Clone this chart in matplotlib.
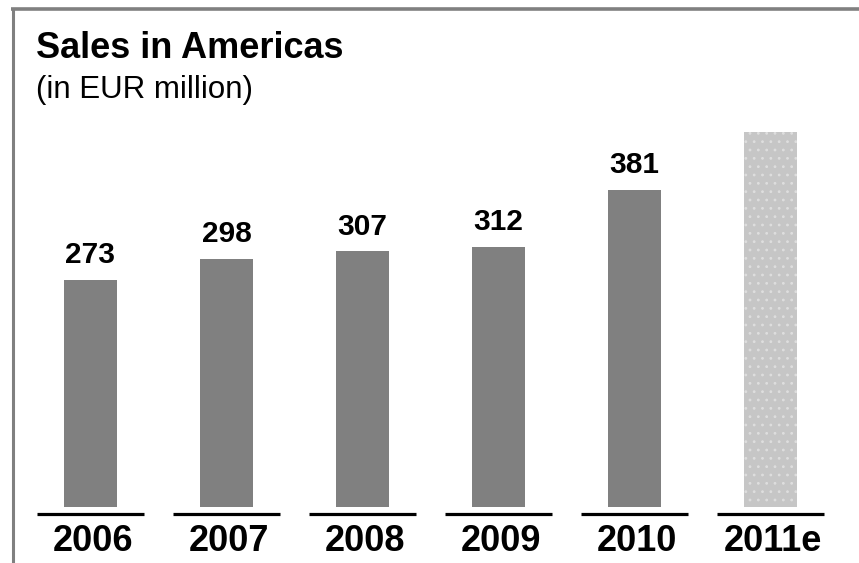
import matplotlib
matplotlib.use("Agg")
import matplotlib.pyplot as plt
from matplotlib.lines import Line2D

plt.rcParams['font.family'] = ['Liberation Sans', 'DejaVu Sans']
plt.rcParams['hatch.linewidth'] = 0.8

years = ["2006", "2007", "2008", "2009", "2010", "2011e"]
values = [273, 298, 307, 312, 381, 450]
labels = ["273", "298", "307", "312", "381", ""]
title = "Sales in Americas"
subtitle = "(in EUR million)"

W, H = 859, 563
fig = plt.figure(figsize=(W / 100, H / 100), dpi=100)
ax = fig.add_axes([0, 0, 1, 1])
ax.set_axis_off()

px_per_unit_y = 0.833
base_px = 507
ax.set_ylim(-(H - base_px) / px_per_unit_y, base_px / px_per_unit_y)
spacing = 135.9
first = 90.5
ax.set_xlim(-first / spacing, (W - first) / spacing)

x = list(range(len(years)))
bar_w = 53 / spacing
colors = ['#808080'] * (len(years) - 1) + ['#c6c6c6']
bars = ax.bar(x, values, width=bar_w, color=colors, linewidth=0)
bars[-1].set_hatch('..')
bars[-1].set_edgecolor('#dedede')
bars[-1].set_linewidth(0)

ul_y = -(514 - base_px) / px_per_unit_y
ul_w = 107 / spacing
for xi, yr in zip(x, years):
    ax.plot([xi - ul_w / 2, xi + ul_w / 2], [ul_y, ul_y], color='black',
            lw=2.3, solid_capstyle='butt')
    ax.text(xi + 0.02, -(551 - base_px) / px_per_unit_y, yr, ha='center',
            va='baseline', fontsize=26, fontweight='bold', color='black')

for xi, v, lab in zip(x, values, labels):
    if lab:
        ax.annotate(lab, (xi, v), xytext=(0, 12), textcoords='offset points',
                    ha='center', va='baseline', fontsize=21.5,
                    fontweight='bold', color='black')

fig.text(36 / W, 1 - 58 / H, title, ha='left', va='baseline', fontsize=26,
         fontweight='bold', color='black')
fig.text(36 / W, 1 - 98 / H, subtitle, ha='left', va='baseline', fontsize=22.5,
         color='black')

fig.add_artist(Line2D([11 / W, 1], [1 - 9 / H, 1 - 9 / H], color='#808080',
                      lw=2.6, transform=fig.transFigure, solid_capstyle='butt'))
fig.add_artist(Line2D([13 / W, 13 / W], [0, 1 - 7.5 / H], color='#808080',
                      lw=2.2, transform=fig.transFigure, solid_capstyle='butt'))

fig.savefig("out.png", dpi=100)
